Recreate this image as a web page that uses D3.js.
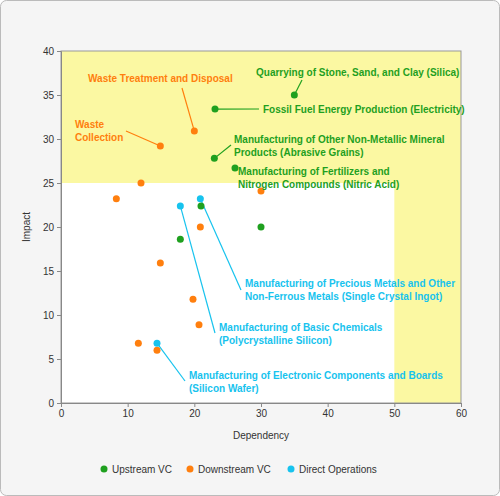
<!DOCTYPE html>
<html><head><meta charset="utf-8">
<script src="https://cdn.jsdelivr.net/npm/d3@7"></script>
<style>body{margin:0;background:#fff}svg{font-family:"Liberation Sans",Arial,sans-serif}</style>
</head><body><svg id="c" width="500" height="496"></svg>
<script>
const upstream=[[35,35],[23.1,33.4],[23,27.8],[26.1,26.7],[21,22.4],[17.9,18.6],[30,20]];
const downstream=[[20,30.9],[14.9,29.2],[12,25],[8.3,23.2],[30,24.1],[20.9,20],[14.9,15.9],[19.8,11.8],[20.7,8.9],[11.6,6.8],[14.4,6.0]];
const direct=[[17.9,22.4],[20.9,23.2],[14.4,6.8]];
const seriesNames=["Upstream VC","Downstream VC","Direct Operations"];
const colors=["#1fa01f","#ff7f0e","#17c3ee"];
const xTicks=[0,10,20,30,40,50,60], yTicks=[0,5,10,15,20,25,30,35,40];
const notes=[
 {t:["Waste Treatment and Disposal"],c:1,x:88,y:82,lx:182,ly:88,p:[20,30.9]},
 {t:["Waste","Collection"],c:1,x:75,y:128,lx:126,ly:131,p:[14.9,29.2]},
 {t:["Quarrying of Stone, Sand, and Clay (Silica)"],c:0,x:256,y:76,lx:302,ly:80,p:[35,35]},
 {t:["Fossil Fuel Energy Production (Electricity)"],c:0,x:263,y:113,lx:259,ly:109,p:[23.1,33.4]},
 {t:["Manufacturing of Other Non-Metallic Mineral","Products (Abrasive Grains)"],c:0,x:234,y:143,lx:231,ly:145,p:[23,27.8]},
 {t:["Manufacturing of Fertilizers and","Nitrogen Compounds (Nitric Acid)"],c:0,x:238,y:175,lx:236,ly:170,p:[26.1,26.7]},
 {t:["Manufacturing of Precious Metals and Other","Non-Ferrous Metals (Single Crystal Ingot)"],c:2,x:245,y:287,lx:241,ly:290,p:[20.9,23.2]},
 {t:["Manufacturing of Basic Chemicals","(Polycrystalline Silicon)"],c:2,x:219,y:331,lx:215,ly:333,p:[17.9,22.4]},
 {t:["Manufacturing of Electronic Components and Boards","(Silicon Wafer)"],c:2,x:189,y:379,lx:185,ly:381,p:[14.4,6.8]}
];
const svg=d3.select("#c");
svg.append("rect").attr("x",0.5).attr("y",0.5).attr("width",499).attr("height",495).attr("rx",6).attr("fill","#f5f5f5").attr("stroke","#bbb");
const L=61,R=461,T=51,B=403;
const x=d3.scaleLinear().domain([0,60]).range([L,R]);
const y=d3.scaleLinear().domain([0,40]).range([B,T]);
svg.append("rect").attr("x",L).attr("y",T).attr("width",R-L).attr("height",B-T).attr("fill","#fff");
const yel="#fbf8a2";
svg.append("rect").attr("x",L).attr("y",y(40)).attr("width",R-L).attr("height",y(25)-y(40)).attr("fill",yel);
svg.append("rect").attr("x",x(50)).attr("y",y(25)).attr("width",x(60)-x(50)).attr("height",y(0)-y(25)).attr("fill",yel);
svg.append("rect").attr("x",L).attr("y",T).attr("width",R-L).attr("height",B-T).attr("fill","none").attr("stroke","#999");
const gx=svg.append("g").attr("transform",`translate(0,${B})`).call(d3.axisBottom(x).tickValues(xTicks).tickSize(4));
const gy=svg.append("g").attr("transform",`translate(${L},0)`).call(d3.axisLeft(y).tickValues(yTicks).tickSize(4));
[gx,gy].forEach(g=>{g.selectAll("path,line").attr("stroke","#888");g.selectAll("text").attr("fill","#333").attr("font-size",10);});
svg.append("text").attr("x",(L+R)/2).attr("y",439).attr("text-anchor","middle").attr("font-size",10).attr("fill","#333").text("Dependency");
svg.append("text").attr("transform",`translate(30,${(T+B)/2}) rotate(-90)`).attr("text-anchor","middle").attr("font-size",10).attr("fill","#333").text("Impact");
notes.forEach(n=>{
 svg.append("line").attr("x1",n.lx).attr("y1",n.ly).attr("x2",x(n.p[0])).attr("y2",y(n.p[1])).attr("stroke",colors[n.c]).attr("stroke-width",1.2);
});
[upstream,downstream,direct].forEach((s,i)=>{
 svg.append("g").selectAll("circle").data(s).join("circle").attr("cx",d=>x(d[0])).attr("cy",d=>y(d[1])).attr("r",3.5).attr("fill",colors[i]);
});
notes.forEach(n=>{
 const t=svg.append("text").attr("x",n.x).attr("y",n.y).attr("font-size",10).attr("font-weight","bold").attr("fill",colors[n.c]);
 n.t.forEach((s,k)=>t.append("tspan").attr("x",n.x).attr("dy",k?12.5:0).text(s));
});
const lg=svg.append("g");
const lx=[104,190,291];
seriesNames.forEach((s,i)=>{
 lg.append("circle").attr("cx",lx[i]).attr("cy",469).attr("r",3.5).attr("fill",colors[i]);
 lg.append("text").attr("x",lx[i]+8).attr("y",472.5).attr("font-size",10).attr("fill","#333").text(s);
});
</script></body></html>
